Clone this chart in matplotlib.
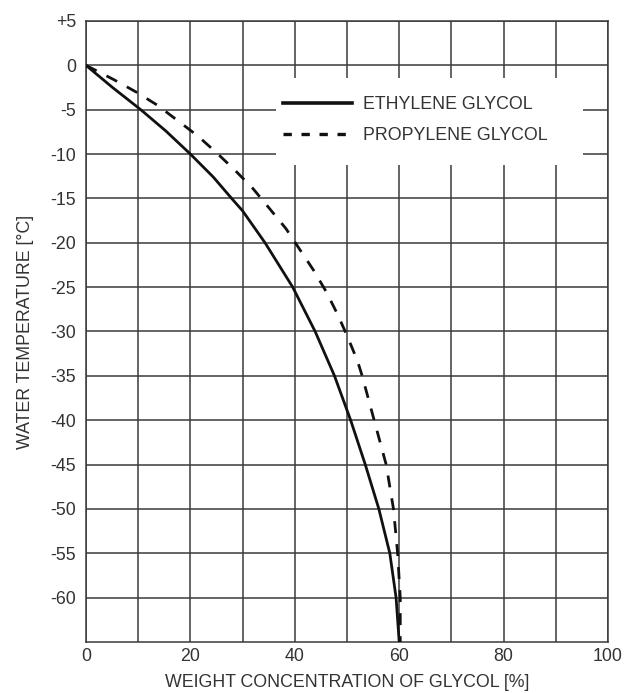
import matplotlib
matplotlib.use("Agg")
import matplotlib.pyplot as plt
from matplotlib.patches import Rectangle
from matplotlib.lines import Line2D
import numpy as np

plt.rcParams['font.family'] = ['Liberation Sans', 'DejaVu Sans']

# Data
eth_x = [0, 5.1, 10.5, 15.3, 20, 24.4, 27.9, 30, 34.3, 39.6, 43.9, 47.6, 50.7, 53.5, 56.1, 58.2, 59.4, 60]
eth_y = [0, -2.5, -5, -7.4, -10, -12.6, -15, -16.4, -20, -25, -30, -35, -40, -45, -50, -55, -60, -65]
pro_x = [0, 5.3, 9.6, 13.7, 17.5, 21.5, 25.1, 28.5, 32.0, 35.1, 38.3, 41.0, 43.6, 46.1, 48.3,
         50.1, 52.0, 52.9, 55.2, 57.5, 58.9, 59.7, 60.2, 60.2]
pro_y = [0, -1.6, -3.0, -4.5, -6.2, -8.0, -9.9, -11.8, -13.9, -16.1, -18.4, -20.8, -23.1, -25.6, -28.2,
         -30.6, -33.3, -35, -40, -45, -50, -55, -60, -65]

x_ticks = [0, 20, 40, 60, 80, 100]
y_ticks = [5, 0, -5, -10, -15, -20, -25, -30, -35, -40, -45, -50, -55, -60]
y_tick_labels = ['+5', '0', '-5', '-10', '-15', '-20', '-25', '-30', '-35', '-40', '-45', '-50', '-55', '-60']
labels = ['ETHYLENE GLYCOL', 'PROPYLENE GLYCOL']

FS = 12.8
TXT = '#333333'

fig = plt.figure(figsize=(6.24, 6.93), dpi=100)
ax = fig.add_axes([0.1378, 0.0736, 0.8366, 0.8961])

ax.set_xlim(0, 100)
ax.set_ylim(-65, 5)
ax.set_xticks(x_ticks)
ax.set_xticks(np.arange(0, 101, 10), minor=True)
ax.set_yticks(y_ticks)
ax.set_yticklabels(y_tick_labels)
ax.tick_params(which='both', length=0, labelsize=FS, colors=TXT)
ax.tick_params(axis='x', pad=4)
ax.tick_params(axis='y', pad=7)
ax.grid(True, which='both', color='#3a3a3a', linewidth=1.1)
ax.set_axisbelow(True)
for s in ax.spines.values():
    s.set_color('#3a3a3a')
    s.set_linewidth(1.1)

ax.plot(eth_x, eth_y, color='#111111', linewidth=2.0, zorder=4)
ax.plot(pro_x, pro_y, color='#111111', linewidth=2.0, linestyle=(0, (4.3, 4.0)), zorder=4)

# white box behind legend (covers grid)
ax.add_patch(Rectangle((0.364, 0.768), 0.588, 0.140, transform=ax.transAxes,
                       facecolor='white', edgecolor='none', zorder=3))
handles = [Line2D([], [], color='#111111', linewidth=2.6),
           Line2D([], [], color='#111111', linewidth=2.4, linestyle=(0, (2.5, 2.9)))]
leg = ax.legend(handles, labels, loc='center', bbox_to_anchor=(0.631, 0.840), frameon=False,
                fontsize=FS, handlelength=3.9, handletextpad=0.62,
                labelspacing=0.8, borderpad=0, borderaxespad=0)
leg.set_zorder(5)
for t in leg.get_texts():
    t.set_color(TXT)

ax.set_xlabel('WEIGHT CONCENTRATION OF GLYCOL [%]', fontsize=FS, color=TXT, labelpad=7)
ax.set_ylabel('WATER TEMPERATURE [°C]', fontsize=FS, color=TXT, labelpad=12)

fig.savefig('out.png', dpi=100)
